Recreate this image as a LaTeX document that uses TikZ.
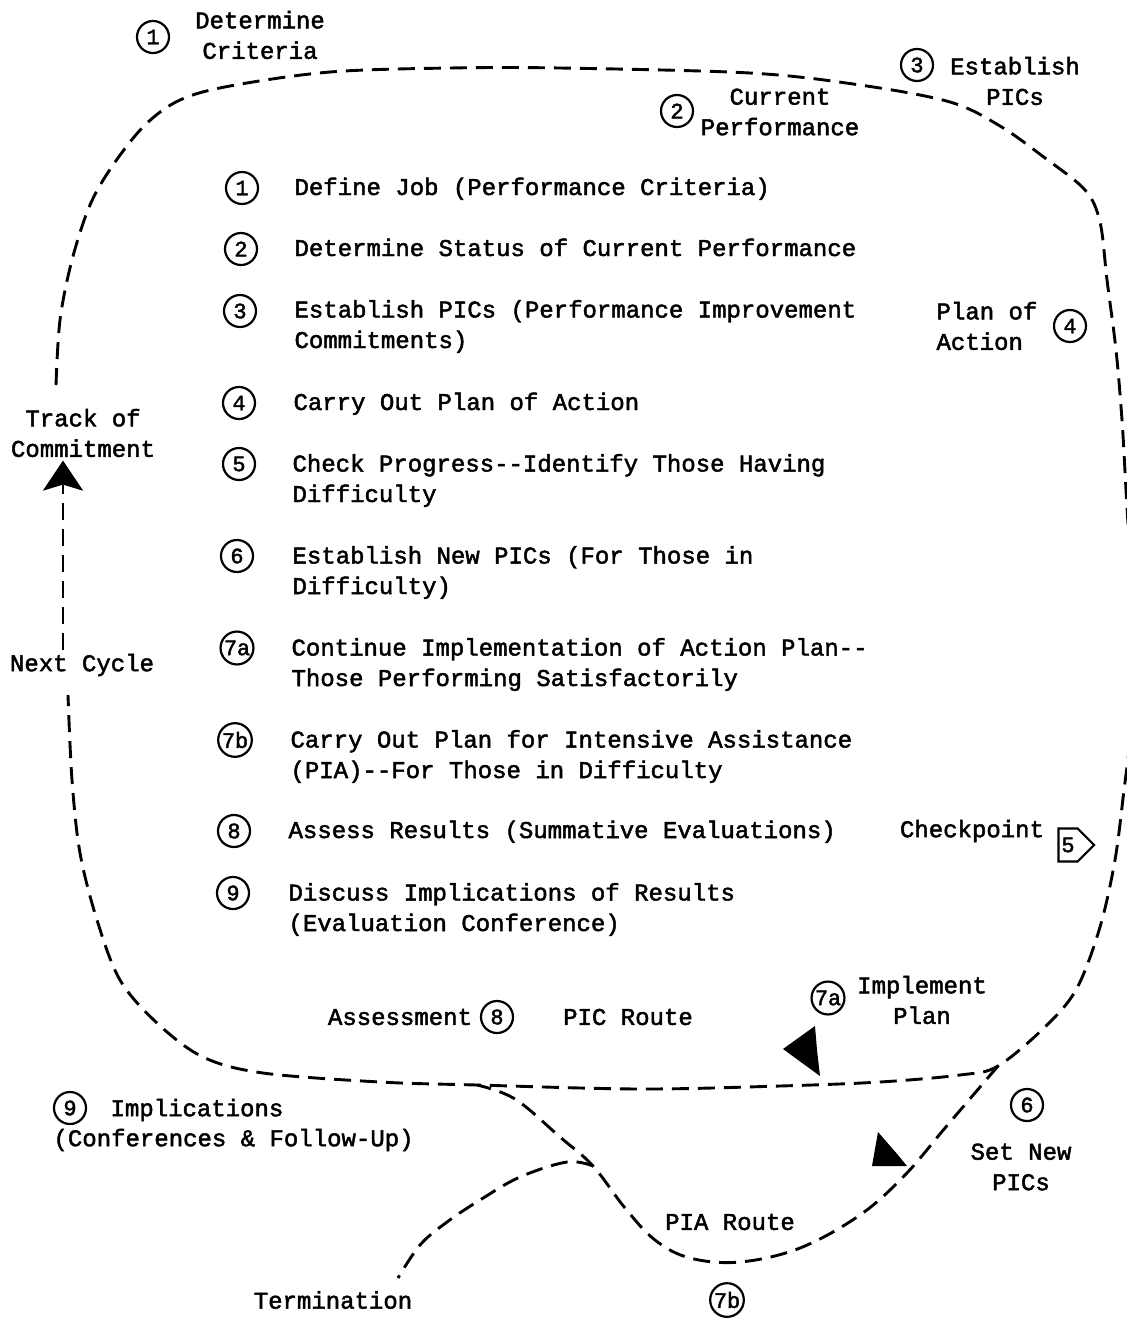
\documentclass[tikz,border=0pt]{standalone}
\usepackage{fontspec}
\newfontfamily\typewriter[FakeBold=2]{Liberation Mono}
\usetikzlibrary{arrows.meta,shapes.symbols}

\tikzset{
  route/.style={line width=2.9pt,dash pattern=on 17pt off 9pt},
  num/.style={draw,circle,line width=2.2pt,inner sep=1pt,minimum size=32pt,font=\typewriter\fontsize{22}{22}\selectfont},
  item/.style={anchor=base west,align=left},
  blob/.style={fill=black}
}

\begin{document}
\begin{tikzpicture}[x=1pt,y=-1pt,font=\typewriter\fontsize{24}{30.5}\selectfont]
	\useasboundingbox (0,0) rectangle (1127,1318);
	\clip (0,0) rectangle (1127,1318);
	% steps of the cycle
	\node[num] (c1) at (242,188) {1};
	\node[item] (t1) at (291,195) {Define Job (Performance Criteria)};
	\node[num] (c2) at (241,249) {2};
	\node[item] (t2) at (291,256) {Determine Status of Current Performance};
	\node[num] (c3) at (240,311) {3};
	\node[item] (t3) at (291,348) {Establish PICs (Performance Improvement\\Commitments)};
	\node[num] (c4) at (239,403) {4};
	\node[item] (t4) at (290,410) {Carry Out Plan of Action};
	\node[num] (c5) at (239,464) {5};
	\node[item] (t5) at (289,502) {Check Progress--Identify Those Having\\Difficulty};
	\node[num] (c6) at (237,556) {6};
	\node[item] (t6) at (289,594) {Establish New PICs (For Those in\\Difficulty)};
	\node[num] (c7a) at (237,648) {7a};
	\node[item] (t7a) at (288,686) {Continue Implementation of Action Plan--\\Those Performing Satisfactorily};
	\node[num] (c7b) at (235,740) {7b};
	\node[item] (t7b) at (287,778) {Carry Out Plan for Intensive Assistance\\(PIA)--For Those in Difficulty};
	\node[num] (c8) at (234,831) {8};
	\node[item] (t8) at (285,838) {Assess Results (Summative Evaluations)};
	\node[num] (c9) at (233,893) {9};
	\node[item] (t9) at (285,931) {Discuss Implications of Results\\(Evaluation Conference)};

	% stations round the loop
	\node[num] (s1) at (153,37) {1};
	\node[align=center] (crit) at (260,35) {Determine\\Criteria};
	\node[num] (s2) at (677,111) {2};
	\node[align=center] (perf) at (780,112) {Current\\Performance};
	\node[num] (s3) at (917,65) {3};
	\node[align=center] (pics) at (1015,81) {Establish\\PICs};
	\node[align=left,anchor=west] (plan) at (933,326) {Plan of\\Action};
	\node[num] (s4) at (1070,326) {4};
	\node (check) at (972,831) {Checkpoint};
	\node[draw,signal,signal to=east,line width=2.2pt,inner sep=3pt,minimum height=33pt,minimum width=31pt,font=\typewriter\fontsize{22}{22}\selectfont] (s5) at (1068,845) {5};
	\node[num] (s7a) at (828,998) {7a};
	\node[align=center] (impl) at (922,1000) {Implement\\Plan};
	\node (assess) at (400,1017) {Assessment};
	\node[num] (s8) at (497,1017) {8};
	\node (picroute) at (628,1017) {PIC Route};
	\node[num] (s6) at (1027,1105) {6};
	\node[align=center] (newpics) at (1021,1167) {Set New\\PICs};
	\node (piaroute) at (730,1222) {PIA Route};
	\node[num] (s7b) at (727,1300) {7b};
	\node (term) at (333,1300) {Termination};
	\node[num] (s9) at (70,1108) {9};
	\node[anchor=west] (implic) at (107,1110) {Implications};
	\node[anchor=west] (conf) at (50,1140) {(Conferences \& Follow-Up)};
	\node[align=center] (track) at (83,433) {Track of\\Commitment};
	\node (next) at (82,665) {Next Cycle};

	% the routes
	\coordinate (stem) at (63,0);
	\coordinate (fork) at (998,1066);
	\coordinate (split) at (477,1085);
	\coordinate (join) at (593,1166);
	\draw[route] plot[smooth,tension=0.55] coordinates {(56,385) (60,320) (72,260) (90,205) (113,165) (145,125) (180,100) (230,86) (330,72) (450,68) (560,68) (750,73) (860,85) (950,102) (1000,126) (1045,158) (1085,190) (1100,222) (1107,280) (1116,350) (1122,420) (1126,490) (1130,560) (1134,650) (1131,730) (1124,790) (1115,860) (1100,927) (1077,988) (1047,1025) (fork) (960,1075) (880,1082) (780,1086) (640,1089) (split) (380,1082) (263,1073) (203,1057) (157,1023) (120,980) (97,920) (80,853) (72,780) (68,695)};
	\draw[route] plot[smooth,tension=0.6] coordinates {(fork) (945,1128) (905,1175) (860,1215) (800,1248) (740,1262) (690,1258) (655,1240) (625,1208) (join) (560,1137) (515,1099) (split)};
	\draw[route] plot[smooth,tension=0.6] coordinates {(join) (567,1162) (520,1177) (480,1200) (447,1222) (420,1245) (398,1278)};
	\draw[route,-{Stealth[length=30pt,width=40pt,inset=6pt]}] (next.north -| stem) -- (track.south -| stem);

	% arrow heads on the routes
	\fill[blob] (783,1049) -- (815,1026) -- (817,1050) -- (820,1076) -- cycle;
	\fill[blob] (878,1132) -- (872,1166) -- (907,1166) -- (898,1155) -- cycle;
\end{tikzpicture}
\end{document}
